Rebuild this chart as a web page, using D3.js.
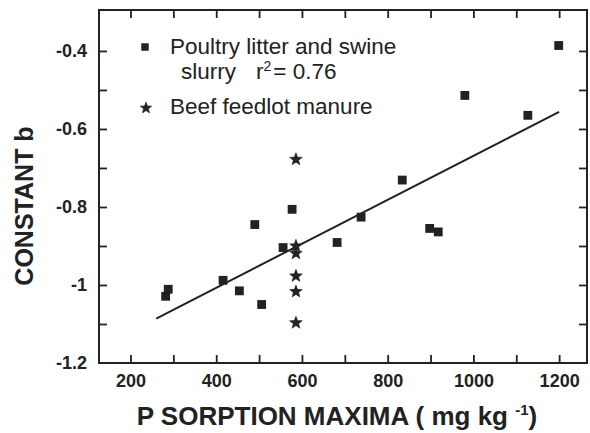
<!DOCTYPE html>
<html><head><meta charset="utf-8">
<script src="https://cdn.jsdelivr.net/npm/d3@7"></script>
<style>
html,body{margin:0;padding:0;background:#fff;}
svg{display:block;font-family:"Liberation Sans",Arial,Helvetica,sans-serif;}
</style></head>
<body><svg id="chart" width="590" height="433"></svg>
<script>
const poultryX = [1199, 980, 1127, 834, 577, 490, 738, 556, 682, 898, 918, 416, 454, 506, 288, 282];
const poultryY = [-0.386, -0.514, -0.565, -0.731, -0.806, -0.845, -0.826, -0.904, -0.891, -0.855, -0.864, -0.988, -1.015, -1.050, -1.011, -1.029];
const beefX = [586, 586, 586, 586, 586, 586];
const beefY = [-0.678, -0.900, -0.919, -0.977, -1.017, -1.097];
const fitX = [260, 1200];
const fitY = [-1.086, -0.556];
const xTickValues = [200, 400, 600, 800, 1000, 1200];
const xMinorTicks = [200, 300, 400, 500, 600, 700, 800, 900, 1000, 1100, 1200];
const yTickValues = [-0.4, -0.6, -0.8, -1.0, -1.2];
const yTickLabels = ["-0.4", "-0.6", "-0.8", "-1", "-1.2"];
const yMinorTicks = [-0.4, -0.5, -0.6, -0.7, -0.8, -0.9, -1.0, -1.1];
const legendLabels = ["Poultry litter and swine", "slurry", "r", "2", "= 0.76", "Beef feedlot manure"];

const ink = "#222";
const svg = d3.select("#chart");
const L = 99, R = 587, T = 10, B = 363;
const x = d3.scaleLinear().domain([126.5, 1265]).range([L, R]);
const y = d3.scaleLinear().domain([-1.2, -0.295]).range([B, T]);

// ticks (inward on all four sides)
const tl = 8;
svg.append("g").attr("transform", `translate(0,${B})`)
  .call(d3.axisTop(x).tickValues(xMinorTicks).tickSize(tl).tickFormat(""))
  .call(g => g.select(".domain").remove());
svg.append("g").attr("transform", `translate(0,${T})`)
  .call(d3.axisBottom(x).tickValues(xMinorTicks).tickSize(tl).tickFormat(""))
  .call(g => g.select(".domain").remove());
svg.append("g").attr("transform", `translate(${L},0)`)
  .call(d3.axisRight(y).tickValues(yMinorTicks).tickSize(tl).tickFormat(""))
  .call(g => g.select(".domain").remove());
svg.append("g").attr("transform", `translate(${R},0)`)
  .call(d3.axisLeft(y).tickValues(yMinorTicks).tickSize(tl).tickFormat(""))
  .call(g => g.select(".domain").remove());
svg.selectAll(".tick line").attr("stroke", ink).attr("stroke-width", 1.8);

// tick labels
svg.append("g").attr("transform", `translate(0,${B})`)
  .call(d3.axisBottom(x).tickValues(xTickValues).tickSize(0).tickPadding(10).tickFormat(d3.format("d")))
  .call(g => g.select(".domain").remove())
  .call(g => g.selectAll("text").attr("fill", ink).attr("font-size", 18).attr("font-weight", "bold")
    .attr("font-family", "Liberation Sans, Arial, sans-serif").attr("dy", "0.78em"));
svg.append("g").attr("transform", `translate(${L},0)`)
  .call(d3.axisLeft(y).tickValues(yTickValues).tickSize(0).tickPadding(12)
    .tickFormat((d, i) => yTickLabels[i]))
  .call(g => g.select(".domain").remove())
  .call(g => g.selectAll("text").attr("fill", ink).attr("font-size", 18).attr("font-weight", "bold")
    .attr("font-family", "Liberation Sans, Arial, sans-serif"));

// frame
svg.append("rect").attr("x", L).attr("y", T).attr("width", R - L).attr("height", B - T)
  .attr("fill", "none").attr("stroke", ink).attr("stroke-width", 2);

// regression line
const line = d3.line().x(d => x(d[0])).y(d => y(d[1]));
svg.append("path").datum(fitX.map((v, i) => [v, fitY[i]]))
  .attr("d", line).attr("fill", "none").attr("stroke", ink).attr("stroke-width", 2);

// custom star symbol
const thinStar = {
  draw(ctx, size) {
    const r = Math.sqrt(size) * 0.62, ri = r * 0.42;
    for (let k = 0; k < 10; k++) {
      const a = -Math.PI / 2 + k * Math.PI / 5;
      const rr = k % 2 ? ri : r;
      const px = Math.cos(a) * rr, py = Math.sin(a) * rr;
      if (k === 0) ctx.moveTo(px, py); else ctx.lineTo(px, py);
    }
    ctx.closePath();
  }
};
const sq = d3.symbol().type(d3.symbolSquare).size(78);
const st = d3.symbol().type(thinStar).size(115);

svg.append("g").selectAll("path").data(poultryX.map((v, i) => [v, poultryY[i]])).join("path")
  .attr("transform", d => `translate(${x(d[0])},${y(d[1])})`)
  .attr("d", sq).attr("fill", ink);
svg.append("g").selectAll("path").data(beefX.map((v, i) => [v, beefY[i]])).join("path")
  .attr("transform", d => `translate(${x(d[0])},${y(d[1])})`)
  .attr("d", st).attr("fill", ink).attr("stroke", ink).attr("stroke-width", 0.6);

// legend
const lg = svg.append("g").attr("fill", ink).attr("font-size", 22.5);
lg.append("path").attr("transform", "translate(145,47)").attr("d", d3.symbol().type(d3.symbolSquare).size(56)).attr("fill", ink);
lg.append("text").attr("x", 170).attr("y", 54).text(legendLabels[0]);
const t2 = lg.append("text").attr("x", 181).attr("y", 79);
t2.append("tspan").text(legendLabels[1]);
t2.append("tspan").attr("x", 256).text(legendLabels[2]);
t2.append("tspan").attr("font-size", 14).attr("dy", -8).text(legendLabels[3]);
t2.append("tspan").attr("dy", 8).attr("dx", 2).text(legendLabels[4]);
lg.append("path").attr("transform", "translate(146,108)").attr("d", d3.symbol().type(thinStar).size(95))
  .attr("fill", ink).attr("stroke", ink).attr("stroke-width", 0.6);
lg.append("text").attr("x", 170).attr("y", 114).text(legendLabels[5]);

// axis titles
const xt = svg.append("text").attr("x", 337).attr("y", 425).attr("text-anchor", "middle")
  .attr("font-size", 26).attr("font-weight", "bold").attr("fill", ink);
xt.append("tspan").text("P SORPTION MAXIMA ( mg kg ");
xt.append("tspan").attr("font-size", 15).attr("dy", -10).text("-1");
xt.append("tspan").attr("dy", 10).text(")");

svg.append("text").attr("transform", "translate(33,206) rotate(-90)").attr("text-anchor", "middle")
  .attr("font-size", 25).attr("font-weight", "bold").attr("fill", ink).text("CONSTANT b");
</script></body></html>
